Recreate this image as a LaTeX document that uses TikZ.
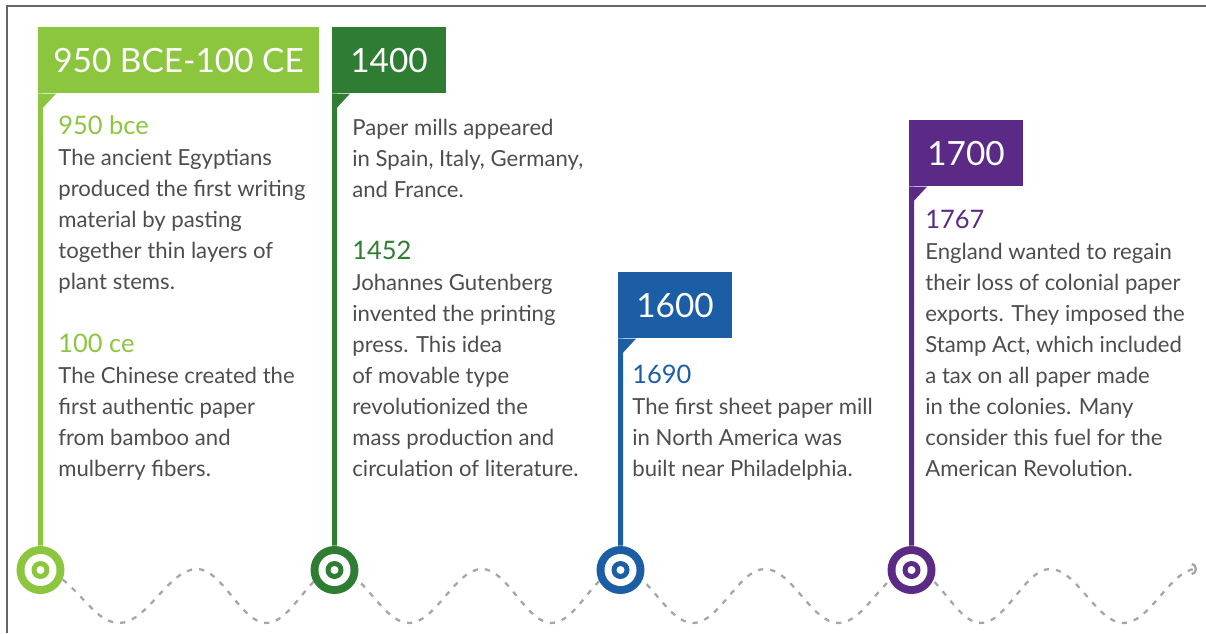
\documentclass[tikz,border=0pt]{standalone}
\usepackage{fontspec}
\setmainfont{Lato}
\usetikzlibrary{arrows.meta,backgrounds}
\definecolor{eraA}{HTML}{8CC63F}
\definecolor{eraB}{HTML}{2E7D33}
\definecolor{eraC}{HTML}{1B5EA6}
\definecolor{eraD}{HTML}{5B2A86}
\definecolor{bodygray}{HTML}{4D4D4D}
\newcommand{\yr}[2]{\textcolor{#1}{\fontsize{14.5}{17.6}\selectfont #2}}
\tikzset{
  era/.style={fill=#1,text=white,anchor=north west,minimum height=1.32cm,inner xsep=0.36cm,
    font=\fontsize{19}{24}\selectfont,text height=13.8pt,text depth=0pt},
  entry/.style={anchor=base west,align=left,inner sep=0pt,text=bodygray,
    font=\fontsize{12.6}{17.6}\selectfont},
  stem/.style={draw=#1,line width=0.1cm},
  target/.style={circle,fill=#1,minimum size=0.96cm,inner sep=0pt,
    path picture={
      \fill[white] (path picture bounding box.center) circle (0.32cm);
      \fill[#1] (path picture bounding box.center) circle (0.18cm);
      \fill[white] (path picture bounding box.center) circle (0.08cm);}},
  wave/.style={draw=gray!70,line width=1.3pt,dash pattern=on 3pt off 4pt}
}

\begin{document}
\begin{tikzpicture}[x=0.02cm,y=-0.02cm]
    \useasboundingbox (0,0) rectangle (1206,633);
    \draw[gray!80!black,line width=0.8pt] (7,633) -- (7,6) -- (1206,6);

    \node[era=eraA,inner xsep=0.3cm] (t1) at (38,27) {950 BCE-100 CE};
    \node[era=eraB] (t2) at (332,27) {1400};
    \node[era=eraC] (t3) at (618,272) {1600};
    \node[era=eraD] (t4) at (909,120) {1700};

    \node[target=eraA] (c1) at (40.5,570) {};
    \node[target=eraB] (c2) at (334.5,570) {};
    \node[target=eraC] (c3) at (620.5,570) {};
    \node[target=eraD] (c4) at (911.5,570) {};

    \begin{scope}[on background layer]
    \draw[wave,-{Arc Barb[length=3pt,width=7pt]}] (c1.center)
      foreach \a/\b in {41/197,197/336,336/482,482/621,621/765,765/912,912/1050,1050/1197}
      { cos ({(3*\a+\b)/4},596) sin ({(\a+\b)/2},623) cos ({(\a+3*\b)/4},596) sin (\b,569) };
    \end{scope}

    \foreach \t/\c/\col in {t1/c1/eraA,t2/c2/eraB,t3/c3/eraC,t4/c4/eraD} {
      \draw[stem=\col] ([xshift=0.05cm]\t.south west) -- (\c);
      \fill[\col] (\t.south west) -- ++(18,0) -- ++(-13,14) -- ++(-5,0) -- cycle;
    }

    \node[entry] (e1) at (58,289) {\yr{eraA}{950 bce}\\The ancient Egyptians\\produced the first writing\\material by pasting\\together thin layers of\\plant stems.};
    \node[entry] (e2) at (58,476) {\yr{eraA}{100 ce}\\The Chinese created the\\first authentic paper\\from bamboo and\\mulberry fibers.};
    \node[entry] (e3) at (352,197) {Paper mills appeared\\in Spain, Italy, Germany,\\and France.};
    \node[entry] (e4) at (352,476) {\yr{eraB}{1452}\\Johannes Gutenberg\\invented the printing\\press. This idea\\of movable type\\revolutionized the\\mass production and\\circulation of literature.};
    \node[entry] (e5) at (632,476) {\yr{eraC}{1690}\\The first sheet paper mill\\in North America was\\built near Philadelphia.};
    \node[entry] (e6) at (925,476) {\yr{eraD}{1767}\\England wanted to regain\\their loss of colonial paper\\exports. They imposed the\\Stamp Act, which included\\a tax on all paper made\\in the colonies. Many\\consider this fuel for the\\American Revolution.};
\end{tikzpicture}
\end{document}
